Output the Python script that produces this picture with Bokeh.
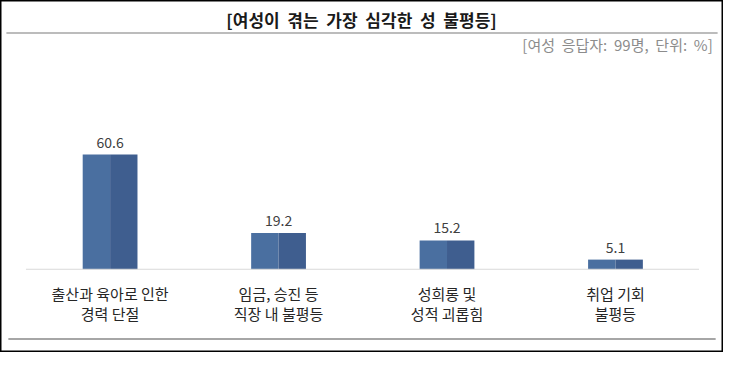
from bokeh.plotting import figure
from bokeh.models import Range1d, ColumnDataSource
from bokeh.core.properties import value
from bokeh.embed import file_html
from bokeh.resources import INLINE

# ---- data ----
categories = ["출산과 육아로 인한\n경력 단절", "임금, 승진 등\n직장 내 불평등",
              "성희롱 및\n성적 괴롭힘", "취업 기회\n불평등"]
values = [60.6, 19.2, 15.2, 5.1]
value_labels = ["60.6", "19.2", "15.2", "5.1"]
title_text = "[여성이\u00a0 겪는\u00a0 가장\u00a0 심각한\u00a0 성\u00a0 불평등]"
subtitle_text = "[여성\u00a0 응답자:\u00a0 99명,\u00a0 단위:\u00a0 %]"

# ---- layout (reference pixel geometry) ----
W, H = 723, 352
REF_W, REF_H = 737, 366
def fx(X):
    return 1 + (X - 1) * (W - 2) / REF_W
def fy(Y):
    return 1 + (Y - 1) * (H - 2) / REF_H

X0, STEP = 112.0, 172.2          # first bar centre, category spacing (ref px)
BASE, PPU = 281.0, 1.98          # baseline y and px per percent (ref px)
ppc = STEP * (W - 2) / REF_W
ppu = PPU * (H - 2) / REF_H

def dx(X):
    return (fx(X) - fx(X0)) / ppc
def dy(Y):
    return (fy(BASE) - fy(Y)) / ppu

x_range = Range1d(-fx(X0) / ppc, (W - fx(X0)) / ppc)
y_range = Range1d(-(H - fy(BASE)) / ppu, fy(BASE) / ppu)

p = figure(width=W, height=H, x_range=x_range, y_range=y_range,
           output_backend="svg", toolbar_location=None,
           x_axis_location=None, y_axis_location=None,
           min_border=0, min_border_left=0, min_border_right=0,
           min_border_top=0, min_border_bottom=0)
p.grid.visible = False
p.background_fill_color = "white"
p.border_fill_color = "white"
p.outline_line_color = "black"
p.outline_line_width = 2

FONT = value("Noto Sans CJK KR")
xs = list(range(len(values)))
bw = 56 / STEP
src = ColumnDataSource(dict(x=xs, top=values, lbl=value_labels, cat=categories,
                            xl=[x - bw / 4 for x in xs], xr=[x + bw / 4 for x in xs]))

# bars: lighter left half, darker right half
p.vbar(x="xl", top="top", bottom=0, width=bw / 2, source=src,
       fill_color="#4a6fa0", line_color=None)
p.vbar(x="xr", top="top", bottom=0, width=bw / 2, source=src,
       fill_color="#3f5e8f", line_color=None)

# baseline
p.segment(x0=[dx(26)], y0=[0], x1=[dx(714)], y1=[0], line_color="#d9d9d9", line_width=1)

# value labels
p.text(x="x", y="top", text="lbl", source=src, text_align="center",
       text_baseline="bottom", y_offset=-7, text_font=FONT,
       text_font_size="14px", text_color="#404040")

# category labels
p.text(x="x", y=0, text="cat", source=src, text_align="center",
       text_baseline="top", y_offset=14, text_font=FONT,
       text_font_size="15px", text_color="#262626", text_line_height=0.95)

# title, title rule, subtitle, bottom rule
p.text(x=[dx(369)], y=[dy(20)], text=[title_text], text_align="center",
       text_baseline="middle", text_font=FONT, text_font_size="17px",
       text_font_style="bold", text_color="#1a1a1a")
p.segment(x0=[dx(6)], y0=[dy(34)], x1=[dx(733)], y1=[dy(34)],
          line_color="#a6a6a6", line_width=1.5)
p.text(x=[dx(728)], y=[dy(46)], text=[subtitle_text], text_align="right",
       text_baseline="middle", text_font=FONT, text_font_size="15px",
       text_color="#8c8c8c")
p.segment(x0=[dx(8)], y0=[dy(354)], x1=[dx(731)], y1=[dy(354)],
          line_color="#a6a6a6", line_width=2)

open("out.html", "w").write(file_html(p, INLINE))
